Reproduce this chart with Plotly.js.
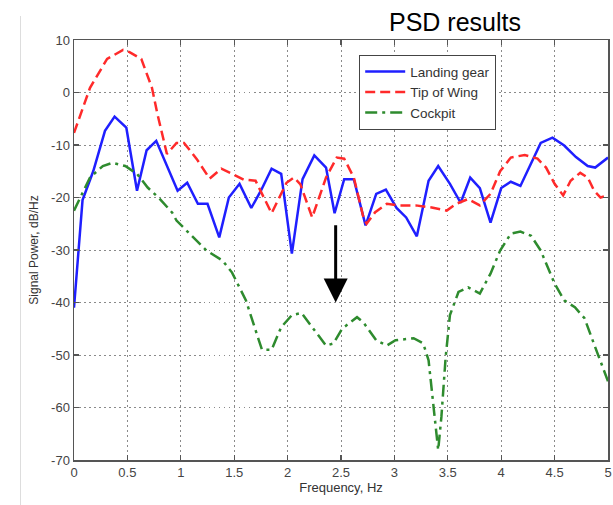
<!DOCTYPE html>
<html>
<head>
<meta charset="utf-8">
<script src="https://cdn.plot.ly/plotly-3.0.1.min.js"></script>
<style>
  html, body { margin: 0; padding: 0; background: #ffffff; }
  #chart { width: 613px; height: 505px; }
</style>
</head>
<body>
<div id="chart"></div>
<script>
// Landing gear (blue, solid)
const landingFreq = [0.00, 0.08, 0.18, 0.29, 0.38, 0.49, 0.59, 0.68, 0.77, 0.88, 0.97, 1.06, 1.16, 1.25, 1.36, 1.45, 1.55, 1.66, 1.75, 1.85, 1.94, 2.04, 2.14, 2.25, 2.36, 2.44, 2.53, 2.62, 2.73, 2.83, 2.92, 3.02, 3.11, 3.21, 3.32, 3.41, 3.52, 3.62, 3.71, 3.80, 3.90, 4.00, 4.09, 4.18, 4.28, 4.37, 4.48, 4.59, 4.70, 4.81, 4.88, 5.00];
const landingPower = [-41, -20.5, -15, -7.3, -4.6, -6.7, -18.7, -11, -9.2, -14.3, -18.7, -17.2, -21.2, -21.2, -27.6, -20, -17.4, -22, -18.7, -14.5, -15.5, -30.7, -16.5, -12, -14.3, -23, -16.5, -16.5, -25.3, -19.3, -18.5, -22, -23.8, -27.4, -16.8, -14, -17.4, -21, -16.2, -18.2, -24.8, -18.2, -17, -17.8, -13.4, -9.6, -8.6, -10.1, -12.3, -14, -14.3, -12.4];

// Tip of Wing (red, dashed)
const wingFreq = [0.00, 0.15, 0.31, 0.46, 0.52, 0.63, 0.73, 0.78, 0.87, 0.96, 1.03, 1.15, 1.27, 1.38, 1.48, 1.59, 1.70, 1.85, 1.99, 2.06, 2.12, 2.23, 2.36, 2.46, 2.53, 2.62, 2.71, 2.74, 2.82, 2.93, 3.04, 3.20, 3.35, 3.49, 3.58, 3.69, 3.80, 3.90, 3.99, 4.09, 4.22, 4.34, 4.42, 4.50, 4.58, 4.65, 4.74, 4.81, 4.87, 4.93, 5.00];
const wingPower = [-7.7, 0.9, 6.4, 8.1, 7.7, 6.4, 0.9, -4, -11.7, -9.6, -9.6, -12.7, -16.4, -14.5, -15.5, -16.6, -16.8, -23, -17.2, -16.2, -17.5, -23.8, -16.2, -12.4, -12.6, -16.2, -23.8, -25, -22.8, -21.2, -21.5, -21.5, -21.9, -22.5, -21.2, -20.3, -21.5, -19.3, -15, -12.4, -11.9, -12.6, -14.3, -17.4, -19.6, -16.8, -15.3, -16.2, -18.7, -20, -19.6];

// Cockpit (green, dash-dot)
const cockpitFreq = [0.00, 0.15, 0.27, 0.36, 0.48, 0.59, 0.69, 0.80, 0.92, 0.96, 1.24, 1.39, 1.48, 1.61, 1.71, 1.76, 1.85, 1.94, 2.04, 2.13, 2.23, 2.36, 2.43, 2.51, 2.65, 2.71, 2.83, 2.93, 3.01, 3.18, 3.27, 3.32, 3.36, 3.41, 3.44, 3.48, 3.52, 3.60, 3.69, 3.80, 3.90, 3.99, 4.09, 4.18, 4.28, 4.37, 4.50, 4.59, 4.69, 4.78, 4.88, 4.98, 5.00];
const cockpitPower = [-22.5, -16.2, -14, -13.4, -14, -15.5, -18.1, -20.2, -22.9, -24.4, -30.1, -32, -34.3, -39.6, -45.9, -49, -49, -44.7, -42.4, -42, -44.7, -48.2, -47.8, -45, -42.8, -43.8, -47.2, -48.2, -47.2, -46.8, -47.8, -51, -58.6, -68.1, -61.8, -50.4, -42.4, -38, -37.1, -38.3, -34.5, -30.1, -26.9, -26.5, -27.3, -30.1, -36.4, -39.6, -40.9, -43, -48.5, -54.2, -55];

const seriesNames = ["Landing gear", "Tip of Wing", "Cockpit"];
const xTickVals = [0, 0.5, 1, 1.5, 2, 2.5, 3, 3.5, 4, 4.5, 5];
const xTickText = ["0", "0.5", "1", "1.5", "2", "2.5", "3", "3.5", "4", "4.5", "5"];
const yTickVals = [-70, -60, -50, -40, -30, -20, -10, 0, 10];
const yTickText = ["-70", "-60", "-50", "-40", "-30", "-20", "-10", "0", "10"];

// Arrow marker (annotation)
const arrowFreq = 2.45;
const arrowFrom = -25;
const arrowTo = -40;

const narrow = "'Liberation Sans Narrow', 'Arial Narrow', 'Liberation Sans', Arial, sans-serif";

const traces = [
  { x: landingFreq, y: landingPower, name: seriesNames[0], type: "scatter", mode: "lines",
    line: { color: "#1f1fff", width: 2.5 } },
  { x: wingFreq, y: wingPower, name: seriesNames[1], type: "scatter", mode: "lines",
    line: { color: "#ff2a2a", width: 2.5, dash: "10px,5px" } },
  { x: cockpitFreq, y: cockpitPower, name: seriesNames[2], type: "scatter", mode: "lines",
    line: { color: "#2e8b2e", width: 2.5, dash: "12px,5px,3px,5px" } }
];

const axisCommon = {
  showline: true, linecolor: "#555555", linewidth: 1.5, mirror: "ticks",
  ticks: "inside", ticklen: 5, tickcolor: "#555555", tickwidth: 1.2,
  showgrid: true, gridcolor: "#8a8a8a", griddash: "1.5px,3.5px", gridwidth: 1,
  zeroline: false, automargin: false, ticklabeloverflow: "allow",
  tickfont: { family: narrow, size: 13, color: "#444444", stretch: "condensed" }
};

const layout = {
  width: 613, height: 505,
  margin: { l: 74, r: 5, t: 40, b: 45, pad: 0 },
  paper_bgcolor: "#ffffff", plot_bgcolor: "#ffffff",
  title: { text: "PSD results", x: 455 / 613, xref: "container", xanchor: "center",
           y: 1 - 22 / 505, yref: "container", yanchor: "middle",
           font: { family: "'Liberation Sans', Arial, sans-serif", size: 25, color: "#000000" } },
  xaxis: Object.assign({}, axisCommon, {
    range: [0, 5], tickmode: "array", tickvals: xTickVals, ticktext: xTickText,
    title: { text: "Frequency, Hz", standoff: 4, font: { family: narrow, size: 13, color: "#333333", stretch: "condensed" } }
  }),
  yaxis: Object.assign({}, axisCommon, {
    range: [-70, 10], tickmode: "array", tickvals: yTickVals, ticktext: yTickText,
    title: { text: "Signal Power, dB/Hz", standoff: 10, font: { family: narrow, size: 12, color: "#333333", stretch: "condensed" } }
  }),
  showlegend: true,
  legend: {
    x: (359 - 74) / 534, y: (460 - 55) / 420, xanchor: "left", yanchor: "top",
    bgcolor: "#ffffff", bordercolor: "#444444", borderwidth: 1.2,
    font: { family: narrow, size: 13.5, color: "#333333", stretch: "condensed" },
    itemwidth: 40, tracegroupgap: 0
  },
  annotations: [{
    x: arrowFreq, y: arrowTo, ax: arrowFreq, ay: arrowFrom, xref: "x", yref: "y",
    axref: "x", ayref: "y", text: "", showarrow: true,
    arrowhead: 2, arrowsize: 1.6, arrowwidth: 3, arrowcolor: "#000000"
  }],
  shapes: [{
    type: "line", xref: "paper", yref: "paper",
    x0: (20.5 - 74) / 534, x1: (20.5 - 74) / 534, y0: (460 - 16) / 420, y1: (460 - 505) / 420,
    line: { color: "#dddddd", width: 1 }
  }]
};

Plotly.newPlot("chart", traces, layout, { displayModeBar: false, staticPlot: true });
</script>
</body>
</html>
